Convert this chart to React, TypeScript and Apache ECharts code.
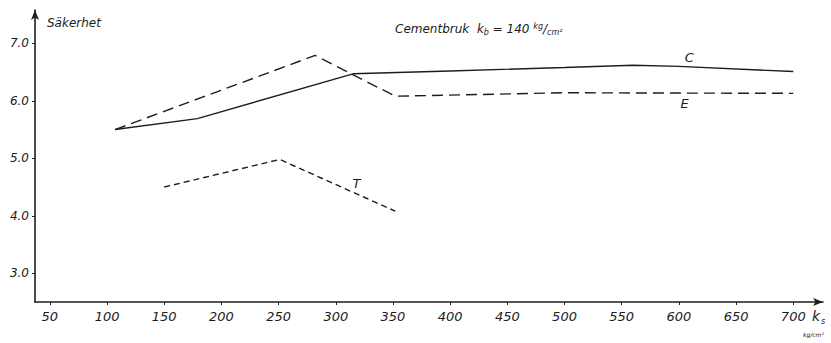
import { useEffect, useRef } from "react";
import * as echarts from "echarts";

const xTicks = [50, 100, 150, 200, 250, 300, 350, 400, 450, 500, 550, 600, 650, 700];
const yTicks = [3, 4, 5, 6, 7];

const cX = [107, 179, 315, 400, 500, 560, 600, 700];
const cY = [5.5, 5.69, 6.47, 6.52, 6.58, 6.62, 6.6, 6.51];

const eX = [107, 282, 352, 500, 700];
const eY = [5.5, 6.79, 6.08, 6.14, 6.13];

const tX = [150, 251, 352];
const tY = [4.5, 4.98, 4.08];

const labelC = [609, 6.75];
const labelE = [605, 5.95];
const labelT = [318, 4.57];

const INK = "#1c1c1c";
const FONT = "DejaVu Sans";

function pairs(xs: number[], ys: number[]) {
  return xs.map((x, i) => [x, ys[i]]);
}

function tag(text: string, coord: number[]) {
  return {
    silent: true,
    symbol: "circle",
    symbolSize: 0,
    label: {
      show: true,
      position: "inside",
      formatter: text,
      color: INK,
      fontFamily: FONT,
      fontStyle: "italic",
      fontSize: 13,
    },
    data: [{ coord }],
  };
}

export default function App() {
  const ref = useRef<HTMLDivElement>(null);
  useEffect(() => {
    if (!ref.current) return;
    const chart = echarts.init(ref.current, null, { renderer: "svg" });
    const axisCommon = {
      axisLine: {
        show: true,
        symbol: ["none", "arrow"],
        symbolSize: [6, 10],
        lineStyle: { color: INK, width: 1.6 },
      },
      splitLine: { show: false },
    };
    chart.setOption({
      animation: false,
      backgroundColor: "#ffffff",
      title: {
        text: "Cementbruk  k{sub|b} = 140 {sup|kg}/{sub|cm²}",
        left: 390,
        top: 17,
        textStyle: {
          fontFamily: FONT,
          fontStyle: "italic",
          fontWeight: "normal",
          fontSize: 12,
          color: INK,
          rich: {
            sub: { fontSize: 8, fontStyle: "italic", fontFamily: FONT, color: INK, verticalAlign: "bottom", padding: [6, 0, 0, 0] },
            sup: { fontSize: 8, fontStyle: "italic", fontFamily: FONT, color: INK, verticalAlign: "top" },
          },
        },
      },
      grid: { left: 35, right: 8, top: 10, bottom: 41 },
      xAxis: {
        type: "value",
        min: 37,
        max: 726,
        ...axisCommon,
        axisTick: { show: true, customValues: xTicks, length: 3, lineStyle: { color: INK } },
        axisLabel: {
          customValues: xTicks,
          color: INK,
          fontFamily: FONT,
          fontStyle: "italic",
          fontSize: 13,
          margin: 8,
        },
      },
      yAxis: {
        type: "value",
        min: 2.5,
        max: 7.58,
        ...axisCommon,
        axisTick: { show: true, customValues: yTicks, length: 3, lineStyle: { color: INK } },
        axisLabel: {
          customValues: yTicks,
          formatter: (v: number) => v.toFixed(1),
          color: INK,
          fontFamily: FONT,
          fontStyle: "italic",
          fontSize: 12,
          margin: 6,
        },
      },
      graphic: [
        {
          type: "text",
          left: 47,
          top: 17,
          style: { text: "Säkerhet", font: `italic 12px "${FONT}"`, fill: INK },
        },
        {
          type: "text",
          left: 812,
          top: 309,
          style: { text: "k", font: `italic 14px "${FONT}"`, fill: INK },
        },
        {
          type: "text",
          left: 821,
          top: 317,
          style: { text: "s", font: `italic 8px "${FONT}"`, fill: INK },
        },
        {
          type: "text",
          left: 803,
          top: 331,
          style: { text: "kg/cm²", font: `italic 6px "${FONT}"`, fill: INK },
        },
      ],
      series: [
        {
          name: "C",
          type: "line",
          data: pairs(cX, cY),
          showSymbol: false,
          symbol: "none",
          lineStyle: { color: INK, width: 1.4, type: "solid" },
          markPoint: tag("C", labelC),
        },
        {
          name: "E",
          type: "line",
          data: pairs(eX, eY),
          showSymbol: false,
          symbol: "none",
          lineStyle: { color: INK, width: 1.4, type: [11, 6] },
          markPoint: tag("E", labelE),
        },
        {
          name: "T",
          type: "line",
          data: pairs(tX, tY),
          showSymbol: false,
          symbol: "none",
          lineStyle: { color: INK, width: 1.4, type: [6, 4] },
          markPoint: tag("T", labelT),
        },
      ],
    });
    return () => chart.dispose();
  }, []);
  return (
    <div
      ref={ref}
      style={{ position: "fixed", left: 0, top: 0, width: 831, height: 343, background: "#fff" }}
    />
  );
}
